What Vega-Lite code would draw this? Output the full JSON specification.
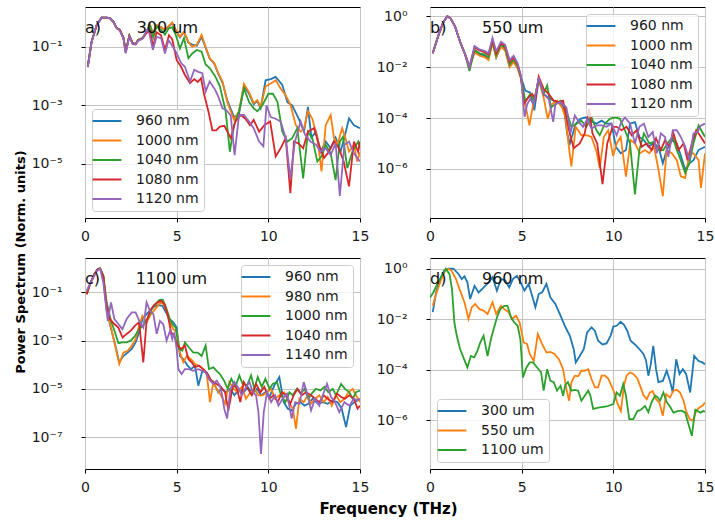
{
"$schema":"https://vega.github.io/schema/vega-lite/v6.json",
"padding":{"left":13,"top":6,"right":5,"bottom":5},
"config":{
"font":"DejaVu Sans",
"view":{"stroke":"#000","strokeWidth":1},
"axis":{"domain":false,"grid":true,"gridColor":"#c4c4c4","gridWidth":1,"tickColor":"#000","tickSize":4,"labelFontSize":14,"labelColor":"#1a1a1a","labelFlush":false,"labelOverlap":false},
"axisX":{"labelPadding":7},
"axisY":{"labelPadding":19,"labelExpr":"'10' + (datum.value >= 0.5 ? '⁰' : '⁻' + ['','¹','²','³','⁴','⁵','⁶','⁷','⁸','⁹'][round(-log(datum.value)/LN10)])"},
"title":{"anchor":"start","frame":"group","orient":"top","fontSize":16,"fontWeight":"normal","color":"#111"}
},
"columns":2,
"spacing":{"row":40,"column":70},
"bounds":"flush",
"resolve":{"scale":{"color":"independent","x":"independent","y":"independent"},"legend":{"color":"independent"}},
"datasets":{
"pa":[
{"s":"960 nm","x":0.15,"y":0.021},{"s":"960 nm","x":0.36,"y":0.15},{"s":"960 nm","x":0.64,"y":0.56},{"s":"960 nm","x":0.9,"y":1.0},{"s":"960 nm","x":1.18,"y":1.0},{"s":"960 nm","x":1.35,"y":0.97},{"s":"960 nm","x":1.55,"y":0.72},{"s":"960 nm","x":1.73,"y":0.44},{"s":"960 nm","x":1.9,"y":0.38},{"s":"960 nm","x":2.1,"y":0.2},{"s":"960 nm","x":2.22,"y":0.069},{"s":"960 nm","x":2.42,"y":0.245},{"s":"960 nm","x":2.6,"y":0.135},{"s":"960 nm","x":2.76,"y":0.126},{"s":"960 nm","x":2.9,"y":0.174},{"s":"960 nm","x":3.13,"y":0.2},{"s":"960 nm","x":3.36,"y":0.33},{"s":"960 nm","x":3.55,"y":0.55},{"s":"960 nm","x":3.72,"y":0.28},{"s":"960 nm","x":3.9,"y":0.55},{"s":"960 nm","x":4.15,"y":0.47},{"s":"960 nm","x":4.36,"y":0.37},{"s":"960 nm","x":4.58,"y":0.52},{"s":"960 nm","x":4.76,"y":0.66},{"s":"960 nm","x":4.95,"y":0.37},{"s":"960 nm","x":5.18,"y":0.21},{"s":"960 nm","x":5.4,"y":0.32},{"s":"960 nm","x":5.64,"y":0.14},{"s":"960 nm","x":5.85,"y":0.12},{"s":"960 nm","x":6.1,"y":0.11},{"s":"960 nm","x":6.36,"y":0.22},{"s":"960 nm","x":6.58,"y":0.095},{"s":"960 nm","x":6.8,"y":0.04},{"s":"960 nm","x":7.05,"y":0.027},{"s":"960 nm","x":7.27,"y":0.012},{"s":"960 nm","x":7.5,"y":6e-3},{"s":"960 nm","x":7.76,"y":1.5e-3},{"s":"960 nm","x":8.13,"y":4e-4},{"s":"960 nm","x":8.4,"y":5e-4},{"s":"960 nm","x":8.67,"y":4.5e-3},{"s":"960 nm","x":8.95,"y":2.5e-3},{"s":"960 nm","x":9.2,"y":1.1e-3},{"s":"960 nm","x":9.4,"y":1.4e-3},{"s":"960 nm","x":9.58,"y":8e-4},{"s":"960 nm","x":9.85,"y":7.2e-3},{"s":"960 nm","x":10.13,"y":7.9e-3},{"s":"960 nm","x":10.4,"y":9.5e-3},{"s":"960 nm","x":10.76,"y":5e-3},{"s":"960 nm","x":11.04,"y":1.3e-3},{"s":"960 nm","x":11.3,"y":1e-3},{"s":"960 nm","x":11.65,"y":3.6e-4},{"s":"960 nm","x":11.95,"y":1.26e-4},{"s":"960 nm","x":12.16,"y":8.9e-4},{"s":"960 nm","x":12.35,"y":7.9e-5},{"s":"960 nm","x":12.6,"y":1.26e-4},{"s":"960 nm","x":12.85,"y":2.6e-5},{"s":"960 nm","x":13.13,"y":5.8e-5},{"s":"960 nm","x":13.4,"y":3.4e-5},{"s":"960 nm","x":13.67,"y":7.9e-5},{"s":"960 nm","x":13.94,"y":2.6e-5},{"s":"960 nm","x":14.15,"y":7.9e-5},{"s":"960 nm","x":14.4,"y":3.6e-4},{"s":"960 nm","x":14.67,"y":2.1e-4},{"s":"960 nm","x":15.0,"y":1.66e-4},
{"s":"1000 nm","x":0.15,"y":0.021},{"s":"1000 nm","x":0.36,"y":0.15},{"s":"1000 nm","x":0.64,"y":0.56},{"s":"1000 nm","x":0.9,"y":1.0},{"s":"1000 nm","x":1.18,"y":1.0},{"s":"1000 nm","x":1.35,"y":0.97},{"s":"1000 nm","x":1.55,"y":0.72},{"s":"1000 nm","x":1.73,"y":0.44},{"s":"1000 nm","x":1.9,"y":0.38},{"s":"1000 nm","x":2.1,"y":0.2},{"s":"1000 nm","x":2.22,"y":0.069},{"s":"1000 nm","x":2.42,"y":0.245},{"s":"1000 nm","x":2.6,"y":0.135},{"s":"1000 nm","x":2.76,"y":0.126},{"s":"1000 nm","x":2.9,"y":0.174},{"s":"1000 nm","x":3.13,"y":0.2},{"s":"1000 nm","x":3.36,"y":0.33},{"s":"1000 nm","x":3.55,"y":0.56},{"s":"1000 nm","x":3.72,"y":0.26},{"s":"1000 nm","x":3.9,"y":0.56},{"s":"1000 nm","x":4.15,"y":0.48},{"s":"1000 nm","x":4.36,"y":0.38},{"s":"1000 nm","x":4.58,"y":0.54},{"s":"1000 nm","x":4.76,"y":0.69},{"s":"1000 nm","x":4.95,"y":0.38},{"s":"1000 nm","x":5.18,"y":0.22},{"s":"1000 nm","x":5.4,"y":0.33},{"s":"1000 nm","x":5.64,"y":0.15},{"s":"1000 nm","x":5.85,"y":0.1},{"s":"1000 nm","x":6.1,"y":0.12},{"s":"1000 nm","x":6.36,"y":0.26},{"s":"1000 nm","x":6.58,"y":0.1},{"s":"1000 nm","x":6.8,"y":0.041},{"s":"1000 nm","x":7.05,"y":0.028},{"s":"1000 nm","x":7.27,"y":0.0126},{"s":"1000 nm","x":7.5,"y":6.6e-3},{"s":"1000 nm","x":7.76,"y":1.3e-3},{"s":"1000 nm","x":8.13,"y":3.2e-4},{"s":"1000 nm","x":8.4,"y":6.3e-4},{"s":"1000 nm","x":8.67,"y":5.4e-3},{"s":"1000 nm","x":8.95,"y":2.8e-3},{"s":"1000 nm","x":9.2,"y":1.2e-3},{"s":"1000 nm","x":9.4,"y":1.5e-3},{"s":"1000 nm","x":9.58,"y":8.9e-4},{"s":"1000 nm","x":9.85,"y":4.4e-3},{"s":"1000 nm","x":10.13,"y":5.6e-3},{"s":"1000 nm","x":10.4,"y":7.2e-3},{"s":"1000 nm","x":10.67,"y":3.8e-3},{"s":"1000 nm","x":10.95,"y":2.2e-3},{"s":"1000 nm","x":11.22,"y":1e-3},{"s":"1000 nm","x":11.5,"y":2.1e-4},{"s":"1000 nm","x":11.76,"y":1.26e-4},{"s":"1000 nm","x":11.95,"y":1.66e-4},{"s":"1000 nm","x":12.16,"y":6.3e-4},{"s":"1000 nm","x":12.4,"y":3.5e-4},{"s":"1000 nm","x":12.67,"y":7.9e-5},{"s":"1000 nm","x":12.9,"y":5.5e-6},{"s":"1000 nm","x":13.13,"y":2.1e-4},{"s":"1000 nm","x":13.4,"y":4.7e-4},{"s":"1000 nm","x":13.58,"y":7.9e-5},{"s":"1000 nm","x":13.76,"y":4.5e-5},{"s":"1000 nm","x":14.03,"y":1.66e-4},{"s":"1000 nm","x":14.2,"y":7.9e-5},{"s":"1000 nm","x":14.4,"y":2.6e-5},{"s":"1000 nm","x":14.67,"y":4.5e-5},{"s":"1000 nm","x":14.85,"y":1.2e-5},{"s":"1000 nm","x":15.0,"y":2.5e-5},
{"s":"1040 nm","x":0.15,"y":0.021},{"s":"1040 nm","x":0.36,"y":0.15},{"s":"1040 nm","x":0.64,"y":0.56},{"s":"1040 nm","x":0.9,"y":1.0},{"s":"1040 nm","x":1.18,"y":1.0},{"s":"1040 nm","x":1.35,"y":0.97},{"s":"1040 nm","x":1.55,"y":0.72},{"s":"1040 nm","x":1.73,"y":0.44},{"s":"1040 nm","x":1.9,"y":0.38},{"s":"1040 nm","x":2.1,"y":0.2},{"s":"1040 nm","x":2.22,"y":0.069},{"s":"1040 nm","x":2.42,"y":0.245},{"s":"1040 nm","x":2.6,"y":0.135},{"s":"1040 nm","x":2.76,"y":0.126},{"s":"1040 nm","x":2.9,"y":0.174},{"s":"1040 nm","x":3.13,"y":0.2},{"s":"1040 nm","x":3.36,"y":0.33},{"s":"1040 nm","x":3.55,"y":0.5},{"s":"1040 nm","x":3.72,"y":0.21},{"s":"1040 nm","x":3.9,"y":0.5},{"s":"1040 nm","x":4.15,"y":0.38},{"s":"1040 nm","x":4.36,"y":0.26},{"s":"1040 nm","x":4.58,"y":0.44},{"s":"1040 nm","x":4.76,"y":0.47},{"s":"1040 nm","x":4.95,"y":0.26},{"s":"1040 nm","x":5.18,"y":0.089},{"s":"1040 nm","x":5.4,"y":0.2},{"s":"1040 nm","x":5.64,"y":0.041},{"s":"1040 nm","x":5.85,"y":0.06},{"s":"1040 nm","x":6.1,"y":0.079},{"s":"1040 nm","x":6.36,"y":0.069},{"s":"1040 nm","x":6.58,"y":0.025},{"s":"1040 nm","x":6.8,"y":0.019},{"s":"1040 nm","x":7.1,"y":0.01},{"s":"1040 nm","x":7.36,"y":4.5e-3},{"s":"1040 nm","x":7.67,"y":6.3e-4},{"s":"1040 nm","x":7.9,"y":2.6e-5},{"s":"1040 nm","x":8.13,"y":2.1e-4},{"s":"1040 nm","x":8.4,"y":6.3e-4},{"s":"1040 nm","x":8.67,"y":3.8e-3},{"s":"1040 nm","x":8.95,"y":1.3e-3},{"s":"1040 nm","x":9.2,"y":7.9e-4},{"s":"1040 nm","x":9.4,"y":6.3e-4},{"s":"1040 nm","x":9.67,"y":1e-3},{"s":"1040 nm","x":10.0,"y":2.5e-3},{"s":"1040 nm","x":10.25,"y":2.5e-3},{"s":"1040 nm","x":10.5,"y":1.3e-3},{"s":"1040 nm","x":10.76,"y":1.26e-4},{"s":"1040 nm","x":11.04,"y":5.8e-5},{"s":"1040 nm","x":11.3,"y":7.6e-5},{"s":"1040 nm","x":11.58,"y":1.66e-4},{"s":"1040 nm","x":11.9,"y":3.2e-6},{"s":"1040 nm","x":12.16,"y":1.26e-4},{"s":"1040 nm","x":12.4,"y":7.6e-5},{"s":"1040 nm","x":12.67,"y":1.2e-5},{"s":"1040 nm","x":12.9,"y":1.8e-5},{"s":"1040 nm","x":13.13,"y":4.5e-5},{"s":"1040 nm","x":13.4,"y":2.3e-5},{"s":"1040 nm","x":13.67,"y":2.8e-6},{"s":"1040 nm","x":13.9,"y":5.8e-5},{"s":"1040 nm","x":14.07,"y":8.5e-5},{"s":"1040 nm","x":14.31,"y":7.1e-6},{"s":"1040 nm","x":14.58,"y":2.6e-5},{"s":"1040 nm","x":14.9,"y":5.8e-5},{"s":"1040 nm","x":15.0,"y":3.4e-5},
{"s":"1080 nm","x":0.15,"y":0.021},{"s":"1080 nm","x":0.36,"y":0.15},{"s":"1080 nm","x":0.64,"y":0.56},{"s":"1080 nm","x":0.9,"y":1.0},{"s":"1080 nm","x":1.18,"y":1.0},{"s":"1080 nm","x":1.35,"y":0.97},{"s":"1080 nm","x":1.55,"y":0.72},{"s":"1080 nm","x":1.73,"y":0.44},{"s":"1080 nm","x":1.9,"y":0.38},{"s":"1080 nm","x":2.1,"y":0.2},{"s":"1080 nm","x":2.22,"y":0.066},{"s":"1080 nm","x":2.42,"y":0.24},{"s":"1080 nm","x":2.6,"y":0.13},{"s":"1080 nm","x":2.76,"y":0.124},{"s":"1080 nm","x":2.9,"y":0.17},{"s":"1080 nm","x":3.13,"y":0.19},{"s":"1080 nm","x":3.36,"y":0.3},{"s":"1080 nm","x":3.55,"y":0.35},{"s":"1080 nm","x":3.72,"y":0.1},{"s":"1080 nm","x":3.9,"y":0.32},{"s":"1080 nm","x":4.15,"y":0.25},{"s":"1080 nm","x":4.36,"y":0.079},{"s":"1080 nm","x":4.58,"y":0.25},{"s":"1080 nm","x":4.76,"y":0.18},{"s":"1080 nm","x":5.0,"y":0.035},{"s":"1080 nm","x":5.24,"y":0.021},{"s":"1080 nm","x":5.45,"y":0.011},{"s":"1080 nm","x":5.73,"y":5.8e-3},{"s":"1080 nm","x":5.96,"y":7.9e-3},{"s":"1080 nm","x":6.15,"y":6.3e-3},{"s":"1080 nm","x":6.33,"y":8.5e-3},{"s":"1080 nm","x":6.5,"y":2.3e-3},{"s":"1080 nm","x":6.73,"y":6.3e-4},{"s":"1080 nm","x":6.95,"y":1.4e-4},{"s":"1080 nm","x":7.15,"y":1.4e-4},{"s":"1080 nm","x":7.36,"y":1.9e-4},{"s":"1080 nm","x":7.6,"y":2e-4},{"s":"1080 nm","x":7.95,"y":7.6e-5},{"s":"1080 nm","x":8.2,"y":2.8e-4},{"s":"1080 nm","x":8.5,"y":4.7e-4},{"s":"1080 nm","x":8.75,"y":3.5e-4},{"s":"1080 nm","x":9.0,"y":2.1e-4},{"s":"1080 nm","x":9.2,"y":3.2e-4},{"s":"1080 nm","x":9.5,"y":1.26e-4},{"s":"1080 nm","x":9.78,"y":2.1e-4},{"s":"1080 nm","x":10.1,"y":2.8e-4},{"s":"1080 nm","x":10.4,"y":1.8e-5},{"s":"1080 nm","x":10.67,"y":3.4e-5},{"s":"1080 nm","x":10.95,"y":7.6e-5},{"s":"1080 nm","x":11.2,"y":1e-6},{"s":"1080 nm","x":11.4,"y":5.8e-5},{"s":"1080 nm","x":11.65,"y":5e-5},{"s":"1080 nm","x":11.9,"y":3.4e-5},{"s":"1080 nm","x":12.16,"y":1.26e-4},{"s":"1080 nm","x":12.5,"y":1.66e-4},{"s":"1080 nm","x":12.76,"y":4.5e-5},{"s":"1080 nm","x":13.04,"y":1.6e-5},{"s":"1080 nm","x":13.3,"y":2.6e-5},{"s":"1080 nm","x":13.58,"y":5.8e-5},{"s":"1080 nm","x":13.85,"y":3.4e-5},{"s":"1080 nm","x":14.11,"y":1.2e-5},{"s":"1080 nm","x":14.4,"y":1.7e-6},{"s":"1080 nm","x":14.67,"y":5.8e-5},{"s":"1080 nm","x":14.9,"y":2.6e-5},{"s":"1080 nm","x":15.0,"y":5.8e-5},
{"s":"1120 nm","x":0.15,"y":0.02},{"s":"1120 nm","x":0.36,"y":0.15},{"s":"1120 nm","x":0.64,"y":0.56},{"s":"1120 nm","x":0.9,"y":1.0},{"s":"1120 nm","x":1.18,"y":1.0},{"s":"1120 nm","x":1.35,"y":0.97},{"s":"1120 nm","x":1.55,"y":0.72},{"s":"1120 nm","x":1.73,"y":0.44},{"s":"1120 nm","x":1.9,"y":0.36},{"s":"1120 nm","x":2.1,"y":0.19},{"s":"1120 nm","x":2.22,"y":0.06},{"s":"1120 nm","x":2.42,"y":0.23},{"s":"1120 nm","x":2.6,"y":0.125},{"s":"1120 nm","x":2.76,"y":0.12},{"s":"1120 nm","x":2.9,"y":0.16},{"s":"1120 nm","x":3.13,"y":0.19},{"s":"1120 nm","x":3.45,"y":0.44},{"s":"1120 nm","x":3.7,"y":0.079},{"s":"1120 nm","x":3.9,"y":0.22},{"s":"1120 nm","x":4.15,"y":0.2},{"s":"1120 nm","x":4.36,"y":0.06},{"s":"1120 nm","x":4.55,"y":0.17},{"s":"1120 nm","x":4.76,"y":0.11},{"s":"1120 nm","x":5.0,"y":0.06},{"s":"1120 nm","x":5.24,"y":0.028},{"s":"1120 nm","x":5.45,"y":0.021},{"s":"1120 nm","x":5.73,"y":6.6e-3},{"s":"1120 nm","x":5.96,"y":0.0166},{"s":"1120 nm","x":6.18,"y":0.014},{"s":"1120 nm","x":6.4,"y":0.0126},{"s":"1120 nm","x":6.58,"y":3e-3},{"s":"1120 nm","x":6.8,"y":6.6e-3},{"s":"1120 nm","x":7.1,"y":3.4e-3},{"s":"1120 nm","x":7.27,"y":2e-3},{"s":"1120 nm","x":7.5,"y":7.9e-4},{"s":"1120 nm","x":7.7,"y":7e-4},{"s":"1120 nm","x":7.95,"y":4.5e-4},{"s":"1120 nm","x":8.16,"y":2e-5},{"s":"1120 nm","x":8.4,"y":4.7e-4},{"s":"1120 nm","x":8.67,"y":4.7e-4},{"s":"1120 nm","x":8.95,"y":2.8e-4},{"s":"1120 nm","x":9.2,"y":1.66e-4},{"s":"1120 nm","x":9.5,"y":5.8e-5},{"s":"1120 nm","x":9.73,"y":4e-5},{"s":"1120 nm","x":9.9,"y":1e-3},{"s":"1120 nm","x":10.13,"y":4e-4},{"s":"1120 nm","x":10.4,"y":3.5e-4},{"s":"1120 nm","x":10.67,"y":2.8e-4},{"s":"1120 nm","x":10.95,"y":7.6e-5},{"s":"1120 nm","x":11.2,"y":3.2e-6},{"s":"1120 nm","x":11.45,"y":5.8e-5},{"s":"1120 nm","x":11.76,"y":2.8e-4},{"s":"1120 nm","x":12.0,"y":1e-4},{"s":"1120 nm","x":12.3,"y":5.8e-5},{"s":"1120 nm","x":12.6,"y":4.5e-5},{"s":"1120 nm","x":12.85,"y":2.6e-5},{"s":"1120 nm","x":13.13,"y":3.4e-5},{"s":"1120 nm","x":13.4,"y":2e-5},{"s":"1120 nm","x":13.67,"y":5e-5},{"s":"1120 nm","x":13.9,"y":8e-7},{"s":"1120 nm","x":14.15,"y":4.5e-5},{"s":"1120 nm","x":14.4,"y":5.8e-5},{"s":"1120 nm","x":14.67,"y":2.3e-5},{"s":"1120 nm","x":15.0,"y":1.2e-5}
],
"pb":[
{"s":"960 nm","x":0.15,"y":0.035},{"s":"960 nm","x":0.46,"y":0.18},{"s":"960 nm","x":0.73,"y":0.6},{"s":"960 nm","x":0.95,"y":1.0},{"s":"960 nm","x":1.13,"y":0.81},{"s":"960 nm","x":1.37,"y":0.39},{"s":"960 nm","x":1.64,"y":0.1},{"s":"960 nm","x":1.92,"y":0.031},{"s":"960 nm","x":2.15,"y":0.01},{"s":"960 nm","x":2.43,"y":0.043},{"s":"960 nm","x":2.7,"y":0.032},{"s":"960 nm","x":2.97,"y":0.028},{"s":"960 nm","x":3.19,"y":0.022},{"s":"960 nm","x":3.41,"y":0.1},{"s":"960 nm","x":3.61,"y":0.024},{"s":"960 nm","x":3.87,"y":0.071},{"s":"960 nm","x":4.1,"y":0.05},{"s":"960 nm","x":4.34,"y":0.011},{"s":"960 nm","x":4.56,"y":0.018},{"s":"960 nm","x":4.78,"y":0.01},{"s":"960 nm","x":4.96,"y":4e-3},{"s":"960 nm","x":5.2,"y":1.2e-3},{"s":"960 nm","x":5.47,"y":1e-3},{"s":"960 nm","x":5.69,"y":2e-4},{"s":"960 nm","x":5.93,"y":3.2e-3},{"s":"960 nm","x":6.2,"y":8.7e-4},{"s":"960 nm","x":6.48,"y":6.3e-4},{"s":"960 nm","x":6.75,"y":4.8e-4},{"s":"960 nm","x":7.03,"y":4.2e-4},{"s":"960 nm","x":7.3,"y":2.6e-4},{"s":"960 nm","x":7.48,"y":2.5e-5},{"s":"960 nm","x":7.63,"y":1e-5},{"s":"960 nm","x":7.95,"y":6e-5},{"s":"960 nm","x":8.2,"y":9.3e-5},{"s":"960 nm","x":8.5,"y":1.07e-4},{"s":"960 nm","x":8.75,"y":7.9e-5},{"s":"960 nm","x":9.08,"y":6e-5},{"s":"960 nm","x":9.36,"y":7.9e-5},{"s":"960 nm","x":9.63,"y":6e-5},{"s":"960 nm","x":9.9,"y":6e-5},{"s":"960 nm","x":10.14,"y":7.4e-6},{"s":"960 nm","x":10.4,"y":4.1e-6},{"s":"960 nm","x":10.69,"y":5.5e-6},{"s":"960 nm","x":10.91,"y":6e-5},{"s":"960 nm","x":11.18,"y":6.9e-5},{"s":"960 nm","x":11.42,"y":1.8e-5},{"s":"960 nm","x":11.67,"y":1.35e-5},{"s":"960 nm","x":11.91,"y":7.4e-6},{"s":"960 nm","x":12.18,"y":1e-5},{"s":"960 nm","x":12.46,"y":7.4e-6},{"s":"960 nm","x":12.7,"y":1.66e-6},{"s":"960 nm","x":12.91,"y":5.5e-6},{"s":"960 nm","x":13.19,"y":1.35e-5},{"s":"960 nm","x":13.46,"y":1e-5},{"s":"960 nm","x":13.64,"y":4.1e-6},{"s":"960 nm","x":13.92,"y":9.3e-7},{"s":"960 nm","x":14.15,"y":1.66e-6},{"s":"960 nm","x":14.37,"y":2.2e-6},{"s":"960 nm","x":14.65,"y":5.5e-6},{"s":"960 nm","x":15.0,"y":7.4e-6},
{"s":"1000 nm","x":0.15,"y":0.035},{"s":"1000 nm","x":0.46,"y":0.18},{"s":"1000 nm","x":0.73,"y":0.6},{"s":"1000 nm","x":0.95,"y":1.0},{"s":"1000 nm","x":1.13,"y":0.81},{"s":"1000 nm","x":1.37,"y":0.39},{"s":"1000 nm","x":1.64,"y":0.1},{"s":"1000 nm","x":1.92,"y":0.031},{"s":"1000 nm","x":2.15,"y":0.01},{"s":"1000 nm","x":2.43,"y":0.038},{"s":"1000 nm","x":2.7,"y":0.028},{"s":"1000 nm","x":2.97,"y":0.025},{"s":"1000 nm","x":3.19,"y":0.019},{"s":"1000 nm","x":3.41,"y":0.089},{"s":"1000 nm","x":3.61,"y":0.025},{"s":"1000 nm","x":3.87,"y":0.063},{"s":"1000 nm","x":4.1,"y":0.045},{"s":"1000 nm","x":4.34,"y":0.01},{"s":"1000 nm","x":4.56,"y":0.016},{"s":"1000 nm","x":4.78,"y":8.9e-3},{"s":"1000 nm","x":4.96,"y":3.5e-3},{"s":"1000 nm","x":5.2,"y":3.5e-4},{"s":"1000 nm","x":5.42,"y":5.2e-5},{"s":"1000 nm","x":5.66,"y":4.5e-4},{"s":"1000 nm","x":5.93,"y":3.2e-3},{"s":"1000 nm","x":6.2,"y":6.3e-4},{"s":"1000 nm","x":6.42,"y":9.3e-5},{"s":"1000 nm","x":6.66,"y":3.5e-4},{"s":"1000 nm","x":6.93,"y":4.8e-4},{"s":"1000 nm","x":7.2,"y":2.6e-4},{"s":"1000 nm","x":7.39,"y":1.07e-4},{"s":"1000 nm","x":7.55,"y":1e-5},{"s":"1000 nm","x":7.71,"y":1.26e-6},{"s":"1000 nm","x":7.95,"y":4.5e-5},{"s":"1000 nm","x":8.26,"y":2.1e-5},{"s":"1000 nm","x":8.53,"y":2.1e-5},{"s":"1000 nm","x":8.81,"y":1.8e-5},{"s":"1000 nm","x":9.08,"y":4.8e-6},{"s":"1000 nm","x":9.26,"y":1.07e-6},{"s":"1000 nm","x":9.48,"y":1.8e-5},{"s":"1000 nm","x":9.72,"y":3.3e-5},{"s":"1000 nm","x":9.99,"y":3.2e-6},{"s":"1000 nm","x":10.18,"y":1e-5},{"s":"1000 nm","x":10.4,"y":1.8e-5},{"s":"1000 nm","x":10.69,"y":5e-7},{"s":"1000 nm","x":10.94,"y":1.35e-5},{"s":"1000 nm","x":11.18,"y":1e-5},{"s":"1000 nm","x":11.45,"y":4.1e-6},{"s":"1000 nm","x":11.73,"y":5.5e-6},{"s":"1000 nm","x":11.96,"y":4.1e-6},{"s":"1000 nm","x":12.22,"y":7.4e-6},{"s":"1000 nm","x":12.46,"y":9.3e-7},{"s":"1000 nm","x":12.7,"y":8.5e-8},{"s":"1000 nm","x":12.91,"y":5.5e-6},{"s":"1000 nm","x":13.19,"y":4.1e-6},{"s":"1000 nm","x":13.46,"y":2.2e-6},{"s":"1000 nm","x":13.68,"y":5.1e-7},{"s":"1000 nm","x":13.92,"y":4.4e-7},{"s":"1000 nm","x":14.15,"y":4.1e-6},{"s":"1000 nm","x":14.37,"y":4.1e-6},{"s":"1000 nm","x":14.65,"y":2.2e-6},{"s":"1000 nm","x":14.78,"y":1.8e-7},{"s":"1000 nm","x":15.0,"y":4.1e-6},
{"s":"1040 nm","x":0.15,"y":0.035},{"s":"1040 nm","x":0.46,"y":0.18},{"s":"1040 nm","x":0.73,"y":0.6},{"s":"1040 nm","x":0.95,"y":1.0},{"s":"1040 nm","x":1.13,"y":0.81},{"s":"1040 nm","x":1.37,"y":0.39},{"s":"1040 nm","x":1.64,"y":0.1},{"s":"1040 nm","x":1.92,"y":0.031},{"s":"1040 nm","x":2.15,"y":7e-3},{"s":"1040 nm","x":2.43,"y":0.048},{"s":"1040 nm","x":2.7,"y":0.035},{"s":"1040 nm","x":2.97,"y":0.032},{"s":"1040 nm","x":3.19,"y":0.025},{"s":"1040 nm","x":3.41,"y":0.1},{"s":"1040 nm","x":3.61,"y":0.03},{"s":"1040 nm","x":3.87,"y":0.079},{"s":"1040 nm","x":4.1,"y":0.056},{"s":"1040 nm","x":4.34,"y":0.0126},{"s":"1040 nm","x":4.56,"y":0.02},{"s":"1040 nm","x":4.78,"y":0.011},{"s":"1040 nm","x":4.96,"y":3.9e-3},{"s":"1040 nm","x":5.2,"y":4.5e-4},{"s":"1040 nm","x":5.47,"y":8.9e-4},{"s":"1040 nm","x":5.69,"y":5e-4},{"s":"1040 nm","x":5.93,"y":3.4e-3},{"s":"1040 nm","x":6.2,"y":8.7e-4},{"s":"1040 nm","x":6.39,"y":1.9e-3},{"s":"1040 nm","x":6.6,"y":2.6e-4},{"s":"1040 nm","x":6.84,"y":3.5e-4},{"s":"1040 nm","x":7.12,"y":4.8e-4},{"s":"1040 nm","x":7.39,"y":2.6e-4},{"s":"1040 nm","x":7.71,"y":4.5e-5},{"s":"1040 nm","x":7.99,"y":6e-5},{"s":"1040 nm","x":8.26,"y":7.9e-5},{"s":"1040 nm","x":8.53,"y":4.5e-5},{"s":"1040 nm","x":8.81,"y":1.07e-4},{"s":"1040 nm","x":9.08,"y":3.3e-5},{"s":"1040 nm","x":9.26,"y":2.1e-5},{"s":"1040 nm","x":9.54,"y":6e-5},{"s":"1040 nm","x":9.81,"y":9.3e-5},{"s":"1040 nm","x":10.09,"y":1.07e-4},{"s":"1040 nm","x":10.36,"y":9.3e-5},{"s":"1040 nm","x":10.63,"y":3.3e-5},{"s":"1040 nm","x":10.91,"y":1e-5},{"s":"1040 nm","x":11.18,"y":1e-7},{"s":"1040 nm","x":11.42,"y":5.5e-6},{"s":"1040 nm","x":11.67,"y":2.5e-5},{"s":"1040 nm","x":11.96,"y":1e-5},{"s":"1040 nm","x":12.22,"y":1.15e-5},{"s":"1040 nm","x":12.46,"y":5.5e-6},{"s":"1040 nm","x":12.73,"y":5.5e-6},{"s":"1040 nm","x":12.95,"y":1e-5},{"s":"1040 nm","x":13.24,"y":1.8e-5},{"s":"1040 nm","x":13.46,"y":5.5e-6},{"s":"1040 nm","x":13.68,"y":2.2e-6},{"s":"1040 nm","x":13.92,"y":6.9e-7},{"s":"1040 nm","x":14.15,"y":1.7e-6},{"s":"1040 nm","x":14.37,"y":1e-5},{"s":"1040 nm","x":14.65,"y":5.1e-5},{"s":"1040 nm","x":15.0,"y":1.8e-5},
{"s":"1080 nm","x":0.15,"y":0.035},{"s":"1080 nm","x":0.46,"y":0.18},{"s":"1080 nm","x":0.73,"y":0.6},{"s":"1080 nm","x":0.95,"y":1.0},{"s":"1080 nm","x":1.13,"y":0.81},{"s":"1080 nm","x":1.37,"y":0.39},{"s":"1080 nm","x":1.64,"y":0.1},{"s":"1080 nm","x":1.92,"y":0.031},{"s":"1080 nm","x":2.15,"y":0.01},{"s":"1080 nm","x":2.43,"y":0.06},{"s":"1080 nm","x":2.7,"y":0.045},{"s":"1080 nm","x":2.97,"y":0.039},{"s":"1080 nm","x":3.19,"y":0.031},{"s":"1080 nm","x":3.41,"y":0.11},{"s":"1080 nm","x":3.61,"y":0.035},{"s":"1080 nm","x":3.87,"y":0.089},{"s":"1080 nm","x":4.1,"y":0.066},{"s":"1080 nm","x":4.34,"y":0.016},{"s":"1080 nm","x":4.56,"y":0.024},{"s":"1080 nm","x":4.78,"y":0.0126},{"s":"1080 nm","x":4.96,"y":4.2e-3},{"s":"1080 nm","x":5.12,"y":3.5e-4},{"s":"1080 nm","x":5.3,"y":5.6e-4},{"s":"1080 nm","x":5.57,"y":8.9e-4},{"s":"1080 nm","x":5.75,"y":5.6e-4},{"s":"1080 nm","x":5.93,"y":4.2e-3},{"s":"1080 nm","x":6.2,"y":1.4e-3},{"s":"1080 nm","x":6.48,"y":8.7e-4},{"s":"1080 nm","x":6.75,"y":4.8e-4},{"s":"1080 nm","x":7.03,"y":4.2e-4},{"s":"1080 nm","x":7.26,"y":4.8e-4},{"s":"1080 nm","x":7.44,"y":1.07e-4},{"s":"1080 nm","x":7.62,"y":2.5e-5},{"s":"1080 nm","x":7.84,"y":6.5e-6},{"s":"1080 nm","x":8.17,"y":1e-5},{"s":"1080 nm","x":8.44,"y":2.5e-5},{"s":"1080 nm","x":8.68,"y":2.3e-4},{"s":"1080 nm","x":8.86,"y":2.5e-5},{"s":"1080 nm","x":9.12,"y":1e-5},{"s":"1080 nm","x":9.41,"y":2.5e-7},{"s":"1080 nm","x":9.67,"y":1e-5},{"s":"1080 nm","x":9.96,"y":4.5e-5},{"s":"1080 nm","x":10.18,"y":4.5e-5},{"s":"1080 nm","x":10.45,"y":3.3e-5},{"s":"1080 nm","x":10.72,"y":4.5e-5},{"s":"1080 nm","x":11.0,"y":2.1e-5},{"s":"1080 nm","x":11.27,"y":3.3e-5},{"s":"1080 nm","x":11.55,"y":7.4e-6},{"s":"1080 nm","x":11.82,"y":1e-5},{"s":"1080 nm","x":12.09,"y":5.5e-6},{"s":"1080 nm","x":12.33,"y":1.6e-5},{"s":"1080 nm","x":12.59,"y":5.5e-6},{"s":"1080 nm","x":12.82,"y":1.35e-5},{"s":"1080 nm","x":13.06,"y":7.4e-6},{"s":"1080 nm","x":13.28,"y":2.5e-5},{"s":"1080 nm","x":13.55,"y":5.5e-6},{"s":"1080 nm","x":13.83,"y":1e-5},{"s":"1080 nm","x":14.05,"y":2.2e-6},{"s":"1080 nm","x":14.28,"y":1e-5},{"s":"1080 nm","x":14.52,"y":3.3e-5},{"s":"1080 nm","x":14.78,"y":1.8e-5},{"s":"1080 nm","x":15.0,"y":1e-5},
{"s":"1120 nm","x":0.15,"y":0.035},{"s":"1120 nm","x":0.46,"y":0.18},{"s":"1120 nm","x":0.73,"y":0.6},{"s":"1120 nm","x":0.95,"y":1.0},{"s":"1120 nm","x":1.13,"y":0.81},{"s":"1120 nm","x":1.37,"y":0.39},{"s":"1120 nm","x":1.64,"y":0.1},{"s":"1120 nm","x":1.92,"y":0.031},{"s":"1120 nm","x":2.15,"y":0.01},{"s":"1120 nm","x":2.43,"y":0.068},{"s":"1120 nm","x":2.7,"y":0.05},{"s":"1120 nm","x":2.97,"y":0.044},{"s":"1120 nm","x":3.19,"y":0.035},{"s":"1120 nm","x":3.41,"y":0.14},{"s":"1120 nm","x":3.61,"y":0.042},{"s":"1120 nm","x":3.87,"y":0.1},{"s":"1120 nm","x":4.1,"y":0.076},{"s":"1120 nm","x":4.34,"y":0.019},{"s":"1120 nm","x":4.56,"y":0.028},{"s":"1120 nm","x":4.78,"y":0.014},{"s":"1120 nm","x":4.96,"y":4.5e-3},{"s":"1120 nm","x":5.16,"y":1.1e-4},{"s":"1120 nm","x":5.3,"y":3.5e-4},{"s":"1120 nm","x":5.47,"y":5.6e-4},{"s":"1120 nm","x":5.66,"y":3.5e-4},{"s":"1120 nm","x":5.93,"y":3.9e-3},{"s":"1120 nm","x":6.2,"y":8.7e-4},{"s":"1120 nm","x":6.48,"y":5.6e-4},{"s":"1120 nm","x":6.72,"y":7.1e-5},{"s":"1120 nm","x":6.84,"y":3.5e-4},{"s":"1120 nm","x":7.12,"y":4.2e-4},{"s":"1120 nm","x":7.44,"y":2.6e-4},{"s":"1120 nm","x":7.66,"y":2.5e-5},{"s":"1120 nm","x":7.9,"y":1.26e-4},{"s":"1120 nm","x":8.13,"y":6.9e-5},{"s":"1120 nm","x":8.35,"y":4.5e-5},{"s":"1120 nm","x":8.57,"y":8.9e-5},{"s":"1120 nm","x":8.81,"y":3.8e-5},{"s":"1120 nm","x":9.08,"y":5.1e-5},{"s":"1120 nm","x":9.36,"y":5.1e-5},{"s":"1120 nm","x":9.63,"y":4.5e-5},{"s":"1120 nm","x":9.9,"y":6e-5},{"s":"1120 nm","x":10.18,"y":2.1e-5},{"s":"1120 nm","x":10.4,"y":6e-5},{"s":"1120 nm","x":10.63,"y":1.07e-4},{"s":"1120 nm","x":10.91,"y":6e-5},{"s":"1120 nm","x":11.18,"y":1e-5},{"s":"1120 nm","x":11.42,"y":4.5e-5},{"s":"1120 nm","x":11.67,"y":6e-5},{"s":"1120 nm","x":11.91,"y":1.8e-5},{"s":"1120 nm","x":12.15,"y":2.8e-5},{"s":"1120 nm","x":12.37,"y":4.1e-6},{"s":"1120 nm","x":12.59,"y":2.5e-5},{"s":"1120 nm","x":12.82,"y":1.8e-5},{"s":"1120 nm","x":13.0,"y":3e-6},{"s":"1120 nm","x":13.24,"y":3.3e-5},{"s":"1120 nm","x":13.46,"y":3.3e-5},{"s":"1120 nm","x":13.68,"y":1.8e-5},{"s":"1120 nm","x":13.92,"y":7.4e-6},{"s":"1120 nm","x":14.15,"y":2.2e-6},{"s":"1120 nm","x":14.37,"y":2.5e-5},{"s":"1120 nm","x":14.59,"y":2.8e-5},{"s":"1120 nm","x":14.78,"y":5.1e-5},{"s":"1120 nm","x":15.0,"y":6e-5}
],
"pc":[
{"s":"960 nm","x":0.09,"y":0.085},{"s":"960 nm","x":0.27,"y":0.22},{"s":"960 nm","x":0.51,"y":0.58},{"s":"960 nm","x":0.69,"y":0.93},{"s":"960 nm","x":0.82,"y":1.0},{"s":"960 nm","x":1.0,"y":0.48},{"s":"960 nm","x":1.18,"y":0.018},{"s":"960 nm","x":1.42,"y":3.2e-3},{"s":"960 nm","x":1.64,"y":7.2e-4},{"s":"960 nm","x":1.87,"y":1.26e-4},{"s":"960 nm","x":2.09,"y":2.3e-4},{"s":"960 nm","x":2.33,"y":3.2e-4},{"s":"960 nm","x":2.55,"y":4.5e-4},{"s":"960 nm","x":2.76,"y":8.5e-4},{"s":"960 nm","x":2.95,"y":2.2e-3},{"s":"960 nm","x":3.13,"y":7.9e-3},{"s":"960 nm","x":3.36,"y":0.0126},{"s":"960 nm","x":3.6,"y":0.02},{"s":"960 nm","x":3.82,"y":0.028},{"s":"960 nm","x":4.04,"y":0.03},{"s":"960 nm","x":4.22,"y":0.028},{"s":"960 nm","x":4.42,"y":0.0148},{"s":"960 nm","x":4.6,"y":7.9e-3},{"s":"960 nm","x":4.82,"y":5.8e-3},{"s":"960 nm","x":5.0,"y":3.5e-3},{"s":"960 nm","x":5.18,"y":2.3e-4},{"s":"960 nm","x":5.36,"y":1.7e-4},{"s":"960 nm","x":5.6,"y":9.1e-5},{"s":"960 nm","x":5.78,"y":6.6e-5},{"s":"960 nm","x":6.0,"y":9.1e-5},{"s":"960 nm","x":6.18,"y":1.35e-5},{"s":"960 nm","x":6.4,"y":5.6e-5},{"s":"960 nm","x":6.64,"y":4.8e-5},{"s":"960 nm","x":6.82,"y":2.5e-5},{"s":"960 nm","x":7.0,"y":1.9e-5},{"s":"960 nm","x":7.27,"y":7.1e-6},{"s":"960 nm","x":7.45,"y":1e-5},{"s":"960 nm","x":7.69,"y":7.2e-6},{"s":"960 nm","x":7.93,"y":1e-5},{"s":"960 nm","x":8.15,"y":5.4e-6},{"s":"960 nm","x":8.42,"y":1e-5},{"s":"960 nm","x":8.66,"y":7.2e-6},{"s":"960 nm","x":8.88,"y":1.2e-5},{"s":"960 nm","x":9.15,"y":6.3e-6},{"s":"960 nm","x":9.38,"y":1e-5},{"s":"960 nm","x":9.6,"y":5.4e-6},{"s":"960 nm","x":9.84,"y":7.2e-6},{"s":"960 nm","x":10.06,"y":4.6e-6},{"s":"960 nm","x":10.33,"y":1.4e-5},{"s":"960 nm","x":10.6,"y":3.1e-5},{"s":"960 nm","x":10.84,"y":2.8e-6},{"s":"960 nm","x":11.06,"y":1.5e-6},{"s":"960 nm","x":11.27,"y":1.26e-6},{"s":"960 nm","x":11.51,"y":2.4e-6},{"s":"960 nm","x":11.75,"y":2.8e-6},{"s":"960 nm","x":11.97,"y":2e-6},{"s":"960 nm","x":12.18,"y":2.4e-6},{"s":"960 nm","x":12.42,"y":3.9e-6},{"s":"960 nm","x":12.7,"y":2.4e-6},{"s":"960 nm","x":12.97,"y":2.8e-6},{"s":"960 nm","x":13.24,"y":2.4e-6},{"s":"960 nm","x":13.51,"y":3.3e-6},{"s":"960 nm","x":13.78,"y":2.8e-6},{"s":"960 nm","x":14.0,"y":1.5e-6},{"s":"960 nm","x":14.24,"y":2.6e-7},{"s":"960 nm","x":14.47,"y":2e-6},{"s":"960 nm","x":14.69,"y":2.8e-6},{"s":"960 nm","x":15.0,"y":3.9e-6},
{"s":"980 nm","x":0.09,"y":0.085},{"s":"980 nm","x":0.27,"y":0.22},{"s":"980 nm","x":0.51,"y":0.58},{"s":"980 nm","x":0.69,"y":0.93},{"s":"980 nm","x":0.82,"y":1.0},{"s":"980 nm","x":1.0,"y":0.48},{"s":"980 nm","x":1.18,"y":0.02},{"s":"980 nm","x":1.42,"y":3.5e-3},{"s":"980 nm","x":1.64,"y":6.2e-4},{"s":"980 nm","x":1.87,"y":1.07e-4},{"s":"980 nm","x":2.09,"y":3.2e-4},{"s":"980 nm","x":2.33,"y":3.8e-4},{"s":"980 nm","x":2.55,"y":6.2e-4},{"s":"980 nm","x":2.76,"y":1.15e-3},{"s":"980 nm","x":2.95,"y":4.2e-3},{"s":"980 nm","x":3.13,"y":0.0107},{"s":"980 nm","x":3.36,"y":5.8e-3},{"s":"980 nm","x":3.6,"y":0.0126},{"s":"980 nm","x":3.82,"y":0.02},{"s":"980 nm","x":4.04,"y":0.033},{"s":"980 nm","x":4.22,"y":0.039},{"s":"980 nm","x":4.42,"y":0.02},{"s":"980 nm","x":4.6,"y":6.6e-3},{"s":"980 nm","x":4.82,"y":3e-3},{"s":"980 nm","x":5.0,"y":2.2e-3},{"s":"980 nm","x":5.18,"y":3.2e-4},{"s":"980 nm","x":5.36,"y":1.26e-4},{"s":"980 nm","x":5.55,"y":2.3e-4},{"s":"980 nm","x":5.78,"y":1.7e-4},{"s":"980 nm","x":6.0,"y":1.07e-4},{"s":"980 nm","x":6.22,"y":9.1e-5},{"s":"980 nm","x":6.45,"y":6.6e-5},{"s":"980 nm","x":6.64,"y":4.1e-5},{"s":"980 nm","x":6.82,"y":2.8e-6},{"s":"980 nm","x":7.0,"y":1.9e-5},{"s":"980 nm","x":7.18,"y":1e-5},{"s":"980 nm","x":7.42,"y":5.4e-6},{"s":"980 nm","x":7.64,"y":2.4e-6},{"s":"980 nm","x":7.87,"y":1.9e-5},{"s":"980 nm","x":8.11,"y":1e-5},{"s":"980 nm","x":8.33,"y":7.2e-6},{"s":"980 nm","x":8.55,"y":1.2e-5},{"s":"980 nm","x":8.78,"y":3.9e-6},{"s":"980 nm","x":9.02,"y":7.2e-6},{"s":"980 nm","x":9.24,"y":1e-5},{"s":"980 nm","x":9.46,"y":5.4e-6},{"s":"980 nm","x":9.69,"y":5.4e-6},{"s":"980 nm","x":9.93,"y":7.2e-6},{"s":"980 nm","x":10.15,"y":1e-5},{"s":"980 nm","x":10.37,"y":3.9e-6},{"s":"980 nm","x":10.6,"y":5.4e-6},{"s":"980 nm","x":10.87,"y":7.2e-6},{"s":"980 nm","x":11.11,"y":2.8e-6},{"s":"980 nm","x":11.33,"y":1.5e-6},{"s":"980 nm","x":11.51,"y":2.2e-7},{"s":"980 nm","x":11.69,"y":3.9e-6},{"s":"980 nm","x":11.93,"y":2.8e-6},{"s":"980 nm","x":12.15,"y":5.4e-6},{"s":"980 nm","x":12.33,"y":2.4e-6},{"s":"980 nm","x":12.55,"y":3.9e-6},{"s":"980 nm","x":12.78,"y":5.4e-6},{"s":"980 nm","x":13.02,"y":2.8e-6},{"s":"980 nm","x":13.24,"y":4.6e-6},{"s":"980 nm","x":13.46,"y":2e-6},{"s":"980 nm","x":13.69,"y":5.4e-6},{"s":"980 nm","x":13.93,"y":2.8e-6},{"s":"980 nm","x":14.15,"y":3.9e-6},{"s":"980 nm","x":14.37,"y":7.2e-6},{"s":"980 nm","x":14.6,"y":1e-5},{"s":"980 nm","x":14.78,"y":5.4e-6},{"s":"980 nm","x":15.0,"y":2.8e-6},
{"s":"1000 nm","x":0.09,"y":0.09},{"s":"1000 nm","x":0.27,"y":0.22},{"s":"1000 nm","x":0.51,"y":0.58},{"s":"1000 nm","x":0.69,"y":0.93},{"s":"1000 nm","x":0.82,"y":1.0},{"s":"1000 nm","x":1.0,"y":0.5},{"s":"1000 nm","x":1.18,"y":0.039},{"s":"1000 nm","x":1.42,"y":6.6e-3},{"s":"1000 nm","x":1.64,"y":2.2e-3},{"s":"1000 nm","x":1.82,"y":7.9e-4},{"s":"1000 nm","x":2.05,"y":8.5e-4},{"s":"1000 nm","x":2.27,"y":8.5e-4},{"s":"1000 nm","x":2.5,"y":1e-3},{"s":"1000 nm","x":2.73,"y":1.6e-3},{"s":"1000 nm","x":2.95,"y":3e-3},{"s":"1000 nm","x":3.18,"y":4.2e-3},{"s":"1000 nm","x":3.4,"y":7.9e-3},{"s":"1000 nm","x":3.64,"y":0.02},{"s":"1000 nm","x":3.85,"y":0.033},{"s":"1000 nm","x":4.04,"y":0.048},{"s":"1000 nm","x":4.24,"y":0.05},{"s":"1000 nm","x":4.42,"y":0.024},{"s":"1000 nm","x":4.6,"y":9.1e-3},{"s":"1000 nm","x":4.76,"y":4.9e-3},{"s":"1000 nm","x":4.95,"y":3.5e-3},{"s":"1000 nm","x":5.13,"y":4.5e-4},{"s":"1000 nm","x":5.31,"y":3.8e-4},{"s":"1000 nm","x":5.45,"y":8.5e-4},{"s":"1000 nm","x":5.67,"y":5.2e-4},{"s":"1000 nm","x":5.91,"y":3.2e-4},{"s":"1000 nm","x":6.15,"y":3.2e-4},{"s":"1000 nm","x":6.36,"y":2.3e-4},{"s":"1000 nm","x":6.58,"y":6.2e-4},{"s":"1000 nm","x":6.76,"y":6.6e-5},{"s":"1000 nm","x":7.0,"y":7.8e-5},{"s":"1000 nm","x":7.18,"y":5.6e-5},{"s":"1000 nm","x":7.36,"y":4.1e-5},{"s":"1000 nm","x":7.6,"y":2.1e-5},{"s":"1000 nm","x":7.78,"y":1e-5},{"s":"1000 nm","x":7.98,"y":2.6e-5},{"s":"1000 nm","x":8.2,"y":1.2e-5},{"s":"1000 nm","x":8.42,"y":3.6e-5},{"s":"1000 nm","x":8.6,"y":1.6e-5},{"s":"1000 nm","x":8.84,"y":1.4e-5},{"s":"1000 nm","x":9.06,"y":3.6e-5},{"s":"1000 nm","x":9.24,"y":1e-5},{"s":"1000 nm","x":9.42,"y":3.1e-5},{"s":"1000 nm","x":9.64,"y":1.2e-5},{"s":"1000 nm","x":9.84,"y":2.6e-5},{"s":"1000 nm","x":10.06,"y":1e-5},{"s":"1000 nm","x":10.24,"y":1.6e-5},{"s":"1000 nm","x":10.47,"y":1.9e-5},{"s":"1000 nm","x":10.7,"y":5.4e-6},{"s":"1000 nm","x":10.93,"y":2.8e-6},{"s":"1000 nm","x":11.15,"y":7.2e-6},{"s":"1000 nm","x":11.33,"y":5.4e-6},{"s":"1000 nm","x":11.56,"y":1e-5},{"s":"1000 nm","x":11.78,"y":6.3e-6},{"s":"1000 nm","x":11.97,"y":1e-5},{"s":"1000 nm","x":12.18,"y":3.9e-6},{"s":"1000 nm","x":12.42,"y":7.2e-6},{"s":"1000 nm","x":12.6,"y":1e-5},{"s":"1000 nm","x":12.84,"y":8.5e-6},{"s":"1000 nm","x":13.06,"y":1.2e-5},{"s":"1000 nm","x":13.27,"y":7.2e-6},{"s":"1000 nm","x":13.51,"y":1e-5},{"s":"1000 nm","x":13.69,"y":5.4e-6},{"s":"1000 nm","x":13.97,"y":1.6e-5},{"s":"1000 nm","x":14.18,"y":1e-5},{"s":"1000 nm","x":14.42,"y":7.2e-6},{"s":"1000 nm","x":14.6,"y":3.9e-6},{"s":"1000 nm","x":14.78,"y":7.2e-6},{"s":"1000 nm","x":15.0,"y":8.5e-6},
{"s":"1040 nm","x":0.09,"y":0.085},{"s":"1040 nm","x":0.27,"y":0.22},{"s":"1040 nm","x":0.51,"y":0.58},{"s":"1040 nm","x":0.69,"y":0.93},{"s":"1040 nm","x":0.82,"y":1.0},{"s":"1040 nm","x":1.0,"y":0.45},{"s":"1040 nm","x":1.18,"y":0.028},{"s":"1040 nm","x":1.36,"y":7.9e-3},{"s":"1040 nm","x":1.6,"y":4.9e-3},{"s":"1040 nm","x":1.82,"y":3.5e-3},{"s":"1040 nm","x":2.05,"y":1.35e-3},{"s":"1040 nm","x":2.27,"y":1.9e-3},{"s":"1040 nm","x":2.5,"y":2.6e-3},{"s":"1040 nm","x":2.73,"y":4.2e-3},{"s":"1040 nm","x":2.95,"y":5.8e-3},{"s":"1040 nm","x":3.18,"y":1.26e-4},{"s":"1040 nm","x":3.36,"y":6.6e-3},{"s":"1040 nm","x":3.55,"y":0.017},{"s":"1040 nm","x":3.76,"y":0.03},{"s":"1040 nm","x":3.96,"y":0.039},{"s":"1040 nm","x":4.15,"y":0.045},{"s":"1040 nm","x":4.33,"y":0.033},{"s":"1040 nm","x":4.5,"y":0.0126},{"s":"1040 nm","x":4.7,"y":2.2e-3},{"s":"1040 nm","x":4.87,"y":1.6e-3},{"s":"1040 nm","x":5.05,"y":6.2e-4},{"s":"1040 nm","x":5.24,"y":4.5e-4},{"s":"1040 nm","x":5.45,"y":6.2e-4},{"s":"1040 nm","x":5.64,"y":1.7e-4},{"s":"1040 nm","x":5.82,"y":1.26e-4},{"s":"1040 nm","x":6.0,"y":7.9e-5},{"s":"1040 nm","x":6.22,"y":9.1e-5},{"s":"1040 nm","x":6.45,"y":6.6e-5},{"s":"1040 nm","x":6.69,"y":4.1e-5},{"s":"1040 nm","x":6.9,"y":2.1e-5},{"s":"1040 nm","x":7.18,"y":1.6e-5},{"s":"1040 nm","x":7.42,"y":1.2e-5},{"s":"1040 nm","x":7.64,"y":7.2e-6},{"s":"1040 nm","x":7.82,"y":1.26e-6},{"s":"1040 nm","x":8.06,"y":1.2e-5},{"s":"1040 nm","x":8.24,"y":1.4e-5},{"s":"1040 nm","x":8.47,"y":2.8e-6},{"s":"1040 nm","x":8.66,"y":1.9e-5},{"s":"1040 nm","x":8.88,"y":1e-5},{"s":"1040 nm","x":9.1,"y":5.4e-6},{"s":"1040 nm","x":9.33,"y":1.6e-5},{"s":"1040 nm","x":9.57,"y":7.2e-6},{"s":"1040 nm","x":9.78,"y":1.2e-5},{"s":"1040 nm","x":10.06,"y":3.9e-6},{"s":"1040 nm","x":10.29,"y":5.4e-6},{"s":"1040 nm","x":10.51,"y":2.8e-6},{"s":"1040 nm","x":10.75,"y":7.2e-6},{"s":"1040 nm","x":10.97,"y":5.4e-6},{"s":"1040 nm","x":11.2,"y":2.4e-6},{"s":"1040 nm","x":11.38,"y":5.4e-6},{"s":"1040 nm","x":11.6,"y":1e-5},{"s":"1040 nm","x":11.82,"y":5.4e-6},{"s":"1040 nm","x":12.06,"y":7.2e-6},{"s":"1040 nm","x":12.33,"y":5.4e-6},{"s":"1040 nm","x":12.55,"y":3.9e-6},{"s":"1040 nm","x":12.78,"y":2.8e-6},{"s":"1040 nm","x":13.02,"y":5.4e-6},{"s":"1040 nm","x":13.24,"y":3.9e-6},{"s":"1040 nm","x":13.51,"y":2.8e-6},{"s":"1040 nm","x":13.75,"y":6.3e-6},{"s":"1040 nm","x":13.97,"y":4.6e-6},{"s":"1040 nm","x":14.18,"y":3.9e-6},{"s":"1040 nm","x":14.42,"y":5.4e-6},{"s":"1040 nm","x":14.66,"y":3.9e-6},{"s":"1040 nm","x":14.87,"y":1.5e-6},{"s":"1040 nm","x":15.0,"y":2e-6},
{"s":"1140 nm","x":0.09,"y":0.12},{"s":"1140 nm","x":0.36,"y":0.3},{"s":"1140 nm","x":0.64,"y":0.75},{"s":"1140 nm","x":0.82,"y":1.0},{"s":"1140 nm","x":1.0,"y":0.25},{"s":"1140 nm","x":1.24,"y":6.6e-3},{"s":"1140 nm","x":1.42,"y":0.039},{"s":"1140 nm","x":1.6,"y":7.9e-3},{"s":"1140 nm","x":1.82,"y":4.9e-3},{"s":"1140 nm","x":2.04,"y":3e-3},{"s":"1140 nm","x":2.27,"y":7.9e-3},{"s":"1140 nm","x":2.55,"y":0.0148},{"s":"1140 nm","x":2.76,"y":0.0148},{"s":"1140 nm","x":2.96,"y":6.6e-3},{"s":"1140 nm","x":3.18,"y":3.5e-3},{"s":"1140 nm","x":3.36,"y":0.039},{"s":"1140 nm","x":3.55,"y":0.017},{"s":"1140 nm","x":3.73,"y":0.0126},{"s":"1140 nm","x":3.91,"y":1.9e-3},{"s":"1140 nm","x":4.09,"y":6.6e-3},{"s":"1140 nm","x":4.27,"y":4.8e-3},{"s":"1140 nm","x":4.45,"y":1e-3},{"s":"1140 nm","x":4.64,"y":2.6e-3},{"s":"1140 nm","x":4.76,"y":1.15e-3},{"s":"1140 nm","x":4.87,"y":2.2e-3},{"s":"1140 nm","x":5.0,"y":4.5e-4},{"s":"1140 nm","x":5.09,"y":6.6e-5},{"s":"1140 nm","x":5.27,"y":4.1e-5},{"s":"1140 nm","x":5.45,"y":6.6e-5},{"s":"1140 nm","x":5.67,"y":6.6e-5},{"s":"1140 nm","x":5.9,"y":5.6e-5},{"s":"1140 nm","x":6.18,"y":6.6e-5},{"s":"1140 nm","x":6.4,"y":5.6e-5},{"s":"1140 nm","x":6.58,"y":4.8e-5},{"s":"1140 nm","x":6.76,"y":2.5e-5},{"s":"1140 nm","x":7.0,"y":1.6e-5},{"s":"1140 nm","x":7.18,"y":2.2e-5},{"s":"1140 nm","x":7.36,"y":1.35e-5},{"s":"1140 nm","x":7.49,"y":5.1e-6},{"s":"1140 nm","x":7.6,"y":1.45e-6},{"s":"1140 nm","x":7.75,"y":5.8e-7},{"s":"1140 nm","x":7.93,"y":1e-5},{"s":"1140 nm","x":8.15,"y":1.95e-5},{"s":"1140 nm","x":8.33,"y":1.2e-5},{"s":"1140 nm","x":8.55,"y":5.5e-6},{"s":"1140 nm","x":8.73,"y":1e-5},{"s":"1140 nm","x":8.97,"y":1.95e-5},{"s":"1140 nm","x":9.15,"y":7.4e-6},{"s":"1140 nm","x":9.33,"y":5.4e-6},{"s":"1140 nm","x":9.46,"y":1.07e-6},{"s":"1140 nm","x":9.6,"y":2e-8},{"s":"1140 nm","x":9.75,"y":1.07e-6},{"s":"1140 nm","x":9.93,"y":7.2e-6},{"s":"1140 nm","x":10.15,"y":2.8e-6},{"s":"1140 nm","x":10.37,"y":5.4e-6},{"s":"1140 nm","x":10.55,"y":2e-6},{"s":"1140 nm","x":10.78,"y":3.9e-6},{"s":"1140 nm","x":11.02,"y":6.3e-6},{"s":"1140 nm","x":11.27,"y":5.8e-7},{"s":"1140 nm","x":11.46,"y":2.8e-6},{"s":"1140 nm","x":11.7,"y":2.4e-6},{"s":"1140 nm","x":11.93,"y":1.9e-5},{"s":"1140 nm","x":12.15,"y":5.4e-6},{"s":"1140 nm","x":12.33,"y":1.26e-6},{"s":"1140 nm","x":12.55,"y":3.9e-6},{"s":"1140 nm","x":12.78,"y":2e-6},{"s":"1140 nm","x":12.97,"y":5.4e-6},{"s":"1140 nm","x":13.2,"y":1.6e-5},{"s":"1140 nm","x":13.42,"y":4.6e-6},{"s":"1140 nm","x":13.64,"y":2.8e-6},{"s":"1140 nm","x":13.87,"y":1.07e-6},{"s":"1140 nm","x":14.15,"y":2.8e-6},{"s":"1140 nm","x":14.42,"y":2e-6},{"s":"1140 nm","x":14.66,"y":3.9e-6},{"s":"1140 nm","x":14.87,"y":3.3e-6},{"s":"1140 nm","x":15.0,"y":3.9e-6}
],
"pd":[
{"s":"300 um","x":0.15,"y":0.019},{"s":"300 um","x":0.33,"y":0.115},{"s":"300 um","x":0.55,"y":0.39},{"s":"300 um","x":0.77,"y":0.83},{"s":"300 um","x":1.0,"y":1.0},{"s":"300 um","x":1.28,"y":1.0},{"s":"300 um","x":1.55,"y":0.62},{"s":"300 um","x":1.73,"y":0.39},{"s":"300 um","x":1.88,"y":0.5},{"s":"300 um","x":2.04,"y":0.29},{"s":"300 um","x":2.19,"y":0.063},{"s":"300 um","x":2.43,"y":0.21},{"s":"300 um","x":2.65,"y":0.115},{"s":"300 um","x":2.92,"y":0.18},{"s":"300 um","x":3.19,"y":0.29},{"s":"300 um","x":3.41,"y":0.46},{"s":"300 um","x":3.65,"y":0.135},{"s":"300 um","x":3.87,"y":0.39},{"s":"300 um","x":4.1,"y":0.35},{"s":"300 um","x":4.32,"y":0.18},{"s":"300 um","x":4.53,"y":0.4},{"s":"300 um","x":4.74,"y":0.52},{"s":"300 um","x":4.93,"y":0.3},{"s":"300 um","x":5.15,"y":0.135},{"s":"300 um","x":5.38,"y":0.25},{"s":"300 um","x":5.57,"y":0.085},{"s":"300 um","x":5.75,"y":0.03},{"s":"300 um","x":5.93,"y":0.1},{"s":"300 um","x":6.13,"y":0.12},{"s":"300 um","x":6.35,"y":0.25},{"s":"300 um","x":6.57,"y":0.072},{"s":"300 um","x":6.84,"y":0.04},{"s":"300 um","x":7.12,"y":0.014},{"s":"300 um","x":7.39,"y":4.8e-3},{"s":"300 um","x":7.63,"y":2.2e-3},{"s":"300 um","x":7.84,"y":6.5e-4},{"s":"300 um","x":7.95,"y":1.95e-4},{"s":"300 um","x":8.17,"y":3.5e-4},{"s":"300 um","x":8.39,"y":6.6e-4},{"s":"300 um","x":8.57,"y":3e-3},{"s":"300 um","x":8.81,"y":4.8e-3},{"s":"300 um","x":8.99,"y":3.5e-3},{"s":"300 um","x":9.17,"y":1.4e-3},{"s":"300 um","x":9.41,"y":1e-3},{"s":"300 um","x":9.63,"y":1.1e-3},{"s":"300 um","x":9.85,"y":2.2e-3},{"s":"300 um","x":10.0,"y":5.1e-3},{"s":"300 um","x":10.18,"y":5.5e-3},{"s":"300 um","x":10.4,"y":7.9e-3},{"s":"300 um","x":10.58,"y":6e-3},{"s":"300 um","x":10.76,"y":3.5e-3},{"s":"300 um","x":10.94,"y":1.4e-3},{"s":"300 um","x":11.18,"y":1e-3},{"s":"300 um","x":11.42,"y":6.6e-4},{"s":"300 um","x":11.64,"y":4.2e-4},{"s":"300 um","x":11.78,"y":2.4e-4},{"s":"300 um","x":11.91,"y":5.8e-5},{"s":"300 um","x":12.04,"y":1.6e-4},{"s":"300 um","x":12.18,"y":8.9e-4},{"s":"300 um","x":12.33,"y":1.05e-4},{"s":"300 um","x":12.46,"y":3.2e-5},{"s":"300 um","x":12.7,"y":3.6e-5},{"s":"300 um","x":12.91,"y":9.1e-5},{"s":"300 um","x":13.09,"y":3.6e-5},{"s":"300 um","x":13.24,"y":1.26e-5},{"s":"300 um","x":13.43,"y":2.6e-4},{"s":"300 um","x":13.61,"y":6.8e-5},{"s":"300 um","x":13.79,"y":1.05e-4},{"s":"300 um","x":13.97,"y":6.8e-5},{"s":"300 um","x":14.19,"y":1.26e-5},{"s":"300 um","x":14.41,"y":3.5e-4},{"s":"300 um","x":14.65,"y":2.2e-4},{"s":"300 um","x":14.83,"y":2e-4},{"s":"300 um","x":15.0,"y":1.66e-4},
{"s":"550 um","x":0.15,"y":0.034},{"s":"550 um","x":0.36,"y":0.115},{"s":"550 um","x":0.58,"y":0.33},{"s":"550 um","x":0.82,"y":0.83},{"s":"550 um","x":1.0,"y":1.0},{"s":"550 um","x":1.18,"y":0.83},{"s":"550 um","x":1.42,"y":0.39},{"s":"550 um","x":1.64,"y":0.135},{"s":"550 um","x":1.88,"y":0.047},{"s":"550 um","x":2.1,"y":0.0102},{"s":"550 um","x":2.28,"y":0.03},{"s":"550 um","x":2.46,"y":0.04},{"s":"550 um","x":2.7,"y":0.025},{"s":"550 um","x":2.92,"y":0.022},{"s":"550 um","x":3.14,"y":0.016},{"s":"550 um","x":3.41,"y":0.047},{"s":"550 um","x":3.61,"y":0.016},{"s":"550 um","x":3.87,"y":0.034},{"s":"550 um","x":4.05,"y":0.025},{"s":"550 um","x":4.29,"y":0.019},{"s":"550 um","x":4.47,"y":0.0102},{"s":"550 um","x":4.69,"y":0.0138},{"s":"550 um","x":4.89,"y":7.4e-3},{"s":"550 um","x":5.11,"y":1.2e-3},{"s":"550 um","x":5.29,"y":1.05e-3},{"s":"550 um","x":5.44,"y":4.2e-4},{"s":"550 um","x":5.66,"y":2.2e-4},{"s":"550 um","x":5.88,"y":2.6e-3},{"s":"550 um","x":6.11,"y":1.05e-3},{"s":"550 um","x":6.35,"y":4.8e-4},{"s":"550 um","x":6.57,"y":5.1e-4},{"s":"550 um","x":6.79,"y":4.2e-4},{"s":"550 um","x":7.03,"y":2.6e-4},{"s":"550 um","x":7.26,"y":1.05e-4},{"s":"550 um","x":7.44,"y":1.7e-5},{"s":"550 um","x":7.59,"y":5.9e-6},{"s":"550 um","x":7.71,"y":3.2e-5},{"s":"550 um","x":7.9,"y":5.8e-5},{"s":"550 um","x":8.08,"y":5.5e-5},{"s":"550 um","x":8.26,"y":9.1e-5},{"s":"550 um","x":8.44,"y":9.1e-5},{"s":"550 um","x":8.63,"y":1.05e-4},{"s":"550 um","x":8.81,"y":4.3e-5},{"s":"550 um","x":9.0,"y":2e-5},{"s":"550 um","x":9.17,"y":2e-5},{"s":"550 um","x":9.36,"y":5.8e-5},{"s":"550 um","x":9.54,"y":5.8e-5},{"s":"550 um","x":9.72,"y":4.5e-5},{"s":"550 um","x":9.9,"y":2.3e-5},{"s":"550 um","x":10.05,"y":1.26e-5},{"s":"550 um","x":10.21,"y":5e-6},{"s":"550 um","x":10.41,"y":2.3e-6},{"s":"550 um","x":10.58,"y":2.3e-5},{"s":"550 um","x":10.72,"y":5.8e-5},{"s":"550 um","x":10.91,"y":7.8e-5},{"s":"550 um","x":11.09,"y":6.8e-5},{"s":"550 um","x":11.31,"y":4.5e-5},{"s":"550 um","x":11.49,"y":2e-5},{"s":"550 um","x":11.64,"y":1e-5},{"s":"550 um","x":11.82,"y":6.8e-6},{"s":"550 um","x":12.0,"y":1.26e-5},{"s":"550 um","x":12.15,"y":1.4e-5},{"s":"550 um","x":12.33,"y":6.8e-6},{"s":"550 um","x":12.51,"y":5e-6},{"s":"550 um","x":12.7,"y":1.5e-6},{"s":"550 um","x":12.88,"y":1.07e-5},{"s":"550 um","x":13.09,"y":8e-6},{"s":"550 um","x":13.28,"y":1.48e-5},{"s":"550 um","x":13.46,"y":1.6e-5},{"s":"550 um","x":13.64,"y":1.26e-5},{"s":"550 um","x":13.83,"y":5.9e-6},{"s":"550 um","x":13.97,"y":2.3e-6},{"s":"550 um","x":14.16,"y":1.1e-6},{"s":"550 um","x":14.34,"y":9.5e-7},{"s":"550 um","x":14.52,"y":2.3e-6},{"s":"550 um","x":14.7,"y":3.2e-6},{"s":"550 um","x":14.88,"y":3.8e-6},{"s":"550 um","x":15.0,"y":5e-6},
{"s":"1100 um","x":0.0,"y":0.072},{"s":"1100 um","x":0.18,"y":0.115},{"s":"1100 um","x":0.4,"y":0.25},{"s":"1100 um","x":0.64,"y":0.52},{"s":"1100 um","x":0.86,"y":1.0},{"s":"1100 um","x":1.06,"y":0.62},{"s":"1100 um","x":1.2,"y":0.155},{"s":"1100 um","x":1.33,"y":7.4e-3},{"s":"1100 um","x":1.46,"y":2.2e-3},{"s":"1100 um","x":1.64,"y":6.6e-4},{"s":"1100 um","x":1.82,"y":3.1e-4},{"s":"1100 um","x":2.04,"y":1.23e-4},{"s":"1100 um","x":2.23,"y":3.5e-4},{"s":"1100 um","x":2.41,"y":3.1e-4},{"s":"1100 um","x":2.59,"y":5.6e-4},{"s":"1100 um","x":2.74,"y":1.2e-3},{"s":"1100 um","x":2.92,"y":2.2e-3},{"s":"1100 um","x":3.14,"y":3.5e-4},{"s":"1100 um","x":3.32,"y":1.6e-3},{"s":"1100 um","x":3.5,"y":4.8e-3},{"s":"1100 um","x":3.65,"y":0.0117},{"s":"1100 um","x":3.83,"y":0.025},{"s":"1100 um","x":4.05,"y":0.034},{"s":"1100 um","x":4.23,"y":0.034},{"s":"1100 um","x":4.42,"y":0.0117},{"s":"1100 um","x":4.6,"y":7.4e-3},{"s":"1100 um","x":4.78,"y":5.5e-3},{"s":"1100 um","x":4.93,"y":1.6e-3},{"s":"1100 um","x":5.07,"y":4.9e-5},{"s":"1100 um","x":5.26,"y":1.23e-4},{"s":"1100 um","x":5.44,"y":1.95e-4},{"s":"1100 um","x":5.62,"y":1.95e-4},{"s":"1100 um","x":5.84,"y":1.23e-4},{"s":"1100 um","x":6.06,"y":7.8e-5},{"s":"1100 um","x":6.2,"y":1.48e-5},{"s":"1100 um","x":6.39,"y":1.05e-4},{"s":"1100 um","x":6.57,"y":3.6e-5},{"s":"1100 um","x":6.75,"y":3.2e-5},{"s":"1100 um","x":6.93,"y":1.48e-5},{"s":"1100 um","x":7.12,"y":2.3e-5},{"s":"1100 um","x":7.26,"y":9.3e-6},{"s":"1100 um","x":7.38,"y":2.5e-5},{"s":"1100 um","x":7.52,"y":3.2e-5},{"s":"1100 um","x":7.71,"y":1.48e-5},{"s":"1100 um","x":7.9,"y":1.6e-5},{"s":"1100 um","x":8.08,"y":1.48e-5},{"s":"1100 um","x":8.26,"y":5.9e-6},{"s":"1100 um","x":8.44,"y":9.3e-6},{"s":"1100 um","x":8.63,"y":1.48e-5},{"s":"1100 um","x":8.75,"y":9.3e-6},{"s":"1100 um","x":8.9,"y":2.8e-6},{"s":"1100 um","x":9.26,"y":3.2e-6},{"s":"1100 um","x":9.63,"y":3.5e-6},{"s":"1100 um","x":10.0,"y":4.4e-6},{"s":"1100 um","x":10.18,"y":1.26e-5},{"s":"1100 um","x":10.36,"y":9.3e-6},{"s":"1100 um","x":10.54,"y":2.7e-5},{"s":"1100 um","x":10.69,"y":9.3e-6},{"s":"1100 um","x":10.87,"y":1.1e-6},{"s":"1100 um","x":11.09,"y":1.1e-6},{"s":"1100 um","x":11.31,"y":2.3e-6},{"s":"1100 um","x":11.51,"y":2.6e-6},{"s":"1100 um","x":11.73,"y":3.7e-6},{"s":"1100 um","x":11.91,"y":2.1e-6},{"s":"1100 um","x":12.09,"y":5.3e-6},{"s":"1100 um","x":12.28,"y":9.3e-6},{"s":"1100 um","x":12.4,"y":8.3e-6},{"s":"1100 um","x":12.55,"y":6e-6},{"s":"1100 um","x":12.73,"y":1.26e-5},{"s":"1100 um","x":12.91,"y":5.3e-6},{"s":"1100 um","x":13.09,"y":3.5e-6},{"s":"1100 um","x":13.28,"y":2e-6},{"s":"1100 um","x":13.5,"y":2.3e-6},{"s":"1100 um","x":13.74,"y":2.4e-6},{"s":"1100 um","x":13.92,"y":2e-6},{"s":"1100 um","x":14.1,"y":6.9e-7},{"s":"1100 um","x":14.28,"y":2.4e-7},{"s":"1100 um","x":14.47,"y":2.6e-6},{"s":"1100 um","x":14.6,"y":2.3e-6},{"s":"1100 um","x":14.74,"y":2e-6},{"s":"1100 um","x":14.92,"y":2.3e-6},{"s":"1100 um","x":15.0,"y":2.2e-6}
]
},
"concat":[
{"width":275,"height":211,"data":{"name":"pa"},
"title":{"text":"a)\u00a0\u00a0\u00a0\u00a0\u00a0\u00a0\u00a0300 um","fontSize":16,"fontWeight":"normal","anchor":"start","frame":"group","offset":-42,"baseline":"alphabetic"},
"mark":{"type":"line","strokeWidth":1.8,"clip":true},
"encoding":{
"x":{"field":"x","type":"quantitative","scale":{"domain":[0,15],"nice":false,"zero":false},"axis":{"values":[0,5,10,15],"format":"d","title":null}},
"y":{"field":"y","type":"quantitative","scale":{"type":"log","domain":[1.41e-7,2.32],"nice":false},"axis":{"values":[0.1,0.001,0.00001],"title":"Power Spectrum (Norm. units)","titleX":-61,"titleY":254.5,"titleAngle":270,"titleBaseline":"alphabetic","titleAlign":"center","titleFontSize":13,"titleFontWeight":"bold","titleColor":"#000"}},
"color":{"field":"s","type":"nominal","scale":{"domain":["960 nm","1000 nm","1040 nm","1080 nm","1120 nm"],"range":["#1f77b4","#ff7f0e","#2ca02c","#d62728","#9467bd"]},
"legend":{"title":null,"orient":"bottom-left","offset":7,"labelFontSize":14,"labelColor":"#1a1a1a","symbolType":"M-2.4,0H2.4","symbolSize":144,"symbolStrokeWidth":2,"symbolOffset":3,"labelOffset":22,"rowPadding":5.5,"padding":5,"fillColor":"rgba(255,255,255,0.8)","strokeColor":"#cccccc","cornerRadius":3}}
}},
{"width":275,"height":211,"data":{"name":"pb"},
"title":{"text":"b)\u00a0\u00a0\u00a0\u00a0\u00a0\u00a0\u00a0550 um","fontSize":16,"fontWeight":"normal","anchor":"start","frame":"group","offset":-42,"baseline":"alphabetic"},
"mark":{"type":"line","strokeWidth":1.8,"clip":true},
"encoding":{
"x":{"field":"x","type":"quantitative","scale":{"domain":[0,15],"nice":false,"zero":false},"axis":{"values":[0,5,10,15],"format":"d","title":null}},
"y":{"field":"y","type":"quantitative","scale":{"type":"log","domain":[1.17e-8,2.32],"nice":false},"axis":{"values":[1,0.01,0.0001,0.000001],"title":null}},
"color":{"field":"s","type":"nominal","scale":{"domain":["960 nm","1000 nm","1040 nm","1080 nm","1120 nm"],"range":["#1f77b4","#ff7f0e","#2ca02c","#d62728","#9467bd"]},
"legend":{"title":null,"orient":"top-right","offset":7,"labelFontSize":14,"labelColor":"#1a1a1a","symbolType":"M-2.4,0H2.4","symbolSize":144,"symbolStrokeWidth":2,"symbolOffset":3,"labelOffset":22,"rowPadding":5.5,"padding":5,"fillColor":"rgba(255,255,255,0.8)","strokeColor":"#cccccc","cornerRadius":3}}
}},
{"width":275,"height":211,"data":{"name":"pc"},
"title":{"text":"c)\u00a0\u00a0\u00a0\u00a0\u00a0\u00a0\u00a01100 um","fontSize":16,"fontWeight":"normal","anchor":"start","frame":"group","offset":-42,"baseline":"alphabetic"},
"mark":{"type":"line","strokeWidth":1.8,"clip":true},
"encoding":{
"x":{"field":"x","type":"quantitative","scale":{"domain":[0,15],"nice":false,"zero":false},"axis":{"values":[0,5,10,15],"format":"d","title":"Frequency (THz)","titleX":303,"titleY":39,"titleBaseline":"middle","titleAlign":"center","titleFontSize":15,"titleFontWeight":"bold","titleColor":"#000"}},
"y":{"field":"y","type":"quantitative","scale":{"type":"log","domain":[4.7e-9,2.7],"nice":false},"axis":{"values":[0.1,0.001,0.00001,0.0000001],"title":null}},
"color":{"field":"s","type":"nominal","scale":{"domain":["960 nm","980 nm","1000 nm","1040 nm","1140 nm"],"range":["#1f77b4","#ff7f0e","#2ca02c","#d62728","#9467bd"]},
"legend":{"title":null,"orient":"top-right","offset":7,"labelFontSize":14,"labelColor":"#1a1a1a","symbolType":"M-2.4,0H2.4","symbolSize":144,"symbolStrokeWidth":2,"symbolOffset":3,"labelOffset":22,"rowPadding":5.5,"padding":5,"fillColor":"rgba(255,255,255,0.8)","strokeColor":"#cccccc","cornerRadius":3}}
}},
{"width":275,"height":211,"data":{"name":"pd"},
"title":{"text":"d)\u00a0\u00a0\u00a0\u00a0\u00a0\u00a0\u00a0960 nm","fontSize":16,"fontWeight":"normal","anchor":"start","frame":"group","offset":-42,"baseline":"alphabetic"},
"mark":{"type":"line","strokeWidth":1.8,"clip":true},
"encoding":{
"x":{"field":"x","type":"quantitative","scale":{"domain":[0,15],"nice":false,"zero":false},"axis":{"values":[0,5,10,15],"format":"d","title":null}},
"y":{"field":"y","type":"quantitative","scale":{"type":"log","domain":[1.17e-8,2.66],"nice":false},"axis":{"values":[1,0.01,0.0001,0.000001],"title":null}},
"color":{"field":"s","type":"nominal","scale":{"domain":["300 um","550 um","1100 um"],"range":["#1f77b4","#ff7f0e","#2ca02c"]},
"legend":{"title":null,"orient":"bottom-left","offset":7,"labelFontSize":14,"labelColor":"#1a1a1a","symbolType":"M-2.4,0H2.4","symbolSize":144,"symbolStrokeWidth":2,"symbolOffset":3,"labelOffset":22,"rowPadding":5.5,"padding":5,"fillColor":"rgba(255,255,255,0.8)","strokeColor":"#cccccc","cornerRadius":3}}
}}
]
}
